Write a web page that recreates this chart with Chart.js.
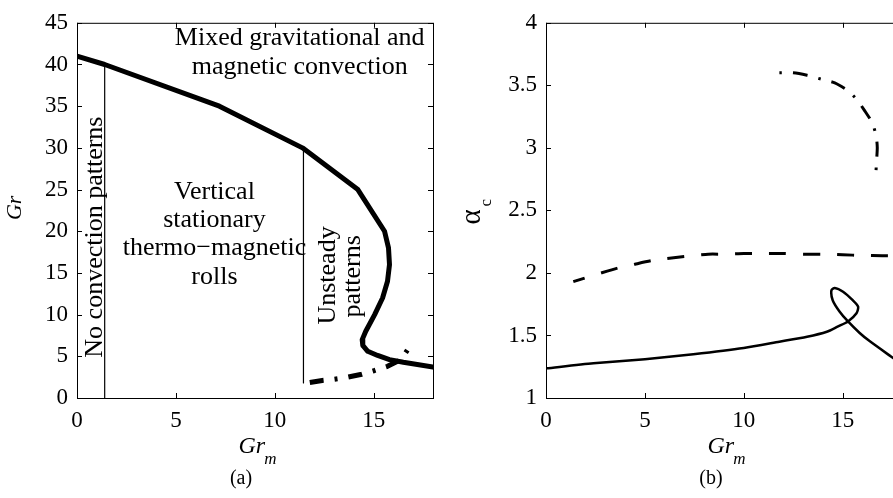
<!DOCTYPE html>
<html>
<head>
<meta charset="utf-8">
<script src="https://cdn.jsdelivr.net/npm/chart.js@4.4.1/dist/chart.umd.min.js"></script>
<style>
  html, body { margin: 0; padding: 0; background: #fff; overflow: hidden; }
  #wrap { position: relative; width: 893px; height: 498px; overflow: hidden; background: #fff; }
  canvas { position: absolute; top: 0; }
  #chartA { left: 0; }
  #chartB { left: 460px; }
</style>
</head>
<body>
<div id="wrap">
  <canvas id="chartA" width="460" height="498"></canvas>
  <canvas id="chartB" width="460" height="498"></canvas>
</div>
<script>
// (a) stability map: Gr against Gr_m
const boundaryGrm = [0, 1.4, 7.2, 11.4, 14.2, 15.55, 15.75, 15.8, 15.7, 15.45, 15.05, 14.6, 14.42, 14.45, 14.7, 15.2, 15.8, 16.5, 18];
const boundaryGr  = [41, 40, 35, 30, 25, 20, 18, 16, 14, 12, 10, 8, 7, 6.3, 5.6, 5.1, 4.6, 4.28, 3.7];
const unsteadyGrm = [11.77, 12.4, 13.0, 13.6, 14.4, 15.05, 15.7, 16.3, 16.55, 16.8];
const unsteadyGr  = [1.85, 2.1, 2.25, 2.45, 2.85, 3.3, 3.8, 4.5, 5.2, 6.1];
const noConvGrm = [1.4, 1.4];
const noConvGr  = [0, 40];
const rollsGrm = [11.45, 11.45];
const rollsGr  = [1.8, 30];

// (b) critical wavenumber alpha_c against Gr_m
const solidGrm   = [0, 2.4, 5, 7.45, 10, 11.8, 13.2, 14.2, 14.77, 15.27, 15.7, 15.78, 15.52, 15.02, 14.6, 14.43, 14.5, 14.85, 15.27, 15.86, 16.36, 17.46, 18];
const solidAlpha = [1.237, 1.277, 1.31, 1.35, 1.40, 1.45, 1.49, 1.53, 1.573, 1.612, 1.677, 1.73, 1.78, 1.85, 1.88, 1.86, 1.78, 1.69, 1.612, 1.52, 1.455, 1.33, 1.27];
const dashedGrm   = [1.38, 2.8, 3.65, 4.5, 5.4, 6.35, 7.2, 8.2, 9.1, 10, 11, 12, 13, 14, 15, 16, 17, 18];
const dashedAlpha = [1.93, 2.0, 2.04, 2.07, 2.1, 2.12, 2.135, 2.15, 2.15, 2.155, 2.155, 2.155, 2.15, 2.15, 2.145, 2.14, 2.138, 2.135];
const dashDotGrm   = [11.8, 12.5, 13.2, 13.9, 14.6, 15.25, 15.7, 16.1, 16.5, 16.7, 16.75, 16.7, 16.67];
const dashDotAlpha = [3.6, 3.6, 3.58, 3.55, 3.52, 3.46, 3.39, 3.3, 3.2, 3.09, 3.0, 2.86, 2.76];

const grmTicks = [0, 5, 10, 15];
const grTicks = [0, 5, 10, 15, 20, 25, 30, 35, 40, 45];
const alphaTicks = [1, 1.5, 2, 2.5, 3, 3.5, 4];

const SERIF = '"Liberation Serif", "Times New Roman", serif';

function line(xs, ys, width, dash, offset, tension) {
    return {
        data: xs.map((x, i) => ({ x, y: ys[i] })),
        showLine: true,
        borderColor: '#000',
        borderWidth: width,
        borderDash: dash || [],
        borderDashOffset: offset || 0,
        borderCapStyle: dash ? 'butt' : 'round',
        borderJoinStyle: 'round',
        pointRadius: 0,
        tension: tension || 0,
        fill: false
    };
}

function axis(min, max, ticks, size, dim) {
    return {
        type: 'linear', min, max,
        border: { display: false },
        grid: { display: false, drawTicks: false },
        afterBuildTicks: s => { s.ticks = ticks.map(value => ({ value })); },
        afterFit: s => { s[dim] = size; },
        ticks: {
            color: '#000', padding: 9, autoSkip: false, maxRotation: 0,
            font: { family: SERIF, size: 23 },
            callback: v => String(v)
        }
    };
}

function txt(ctx, s, x, y, font, rot, align) {
    ctx.save();
    ctx.translate(x, y);
    if (rot) ctx.rotate(-Math.PI / 2);
    ctx.font = font;
    ctx.textAlign = align || 'center';
    ctx.textBaseline = 'alphabetic';
    ctx.fillStyle = '#000';
    ctx.fillText(s, 0, 0);
    ctx.restore();
}

// italic "Gr" with subscript m, centred on cx
function grmTitle(ctx, cx, base) {
    const f1 = 'italic 24px ' + SERIF, f2 = 'italic 17px ' + SERIF;
    ctx.font = f1; const w1 = ctx.measureText('Gr').width;
    ctx.font = f2; const w2 = ctx.measureText('m').width;
    const left = cx - (w1 + w2) / 2;
    txt(ctx, 'Gr', left, base, f1, false, 'left');
    txt(ctx, 'm', left + w1 - 1, base + 11, f2, false, 'left');
}

// box round the plot with inward ticks on all four sides
const frame = {
    id: 'frame',
    afterDatasetsDraw(chart) {
        const { ctx, chartArea: a, scales: { x, y } } = chart;
        ctx.save();
        ctx.strokeStyle = '#000';
        ctx.lineWidth = 1;
        ctx.strokeRect(a.left + 0.5, a.top + 0.5, a.right - a.left, a.bottom - a.top);
        ctx.beginPath();
        x.ticks.forEach(t => {
            const px = Math.round(x.getPixelForValue(t.value)) + 0.5;
            ctx.moveTo(px, a.bottom); ctx.lineTo(px, a.bottom - 5);
            ctx.moveTo(px, a.top); ctx.lineTo(px, a.top + 5);
        });
        y.ticks.forEach(t => {
            const py = Math.round(y.getPixelForValue(t.value)) + 0.5;
            ctx.moveTo(a.left, py); ctx.lineTo(a.left + 5, py);
            ctx.moveTo(a.right, py); ctx.lineTo(a.right - 5, py);
        });
        ctx.stroke();
        ctx.restore();
    }
};

const notesA = {
    id: 'notesA',
    afterDraw(chart) {
        const { ctx, chartArea: a, scales: { x, y } } = chart;
        const big = '26px ' + SERIF;
        const at = (gx, gy) => [x.getPixelForValue(gx), y.getPixelForValue(gy)];
        txt(ctx, 'Mixed gravitational and', ...at(11.26, 42.3), big);
        txt(ctx, 'magnetic convection', ...at(11.26, 38.9), big);
        txt(ctx, 'Vertical', ...at(6.95, 23.9), big);
        txt(ctx, 'stationary', ...at(6.95, 20.5), big);
        txt(ctx, 'thermo\u2212magnetic', ...at(6.95, 17.1), big);
        txt(ctx, 'rolls', ...at(6.95, 13.7), big);
        txt(ctx, 'No convection patterns', ...at(1.26, 19.3), big, true);
        txt(ctx, 'Unsteady', ...at(13.03, 14.7), big, true);
        txt(ctx, 'patterns', ...at(14.3, 14.6), big, true);
        txt(ctx, 'Gr', 21, a.top + 185, 'italic 22px ' + SERIF, true);
        grmTitle(ctx, (a.left + a.right) / 2 + 3, 453);
        txt(ctx, '(a)', (a.left + a.right) / 2 - 14, 484, '20px ' + SERIF);
    }
};

const notesB = {
    id: 'notesB',
    afterDraw(chart) {
        const { ctx, chartArea: a } = chart;
        txt(ctx, '\u03b1', 20, a.top + 194, '29px ' + SERIF, true);
        txt(ctx, 'c', 31, a.top + 180, '17px ' + SERIF, true);
        grmTitle(ctx, (a.left + a.right) / 2 + 3, 453);
        txt(ctx, '(b)', (a.left + a.right) / 2 - 13, 484, '20px ' + SERIF);
    }
};

const base = {
    responsive: false,
    animation: false,
    plugins: { legend: { display: false }, tooltip: { enabled: false } }
};

new Chart(document.getElementById('chartA'), {
    type: 'scatter',
    data: {
        datasets: [
            line(noConvGrm, noConvGr, 1.2),
            line(rollsGrm, rollsGr, 1.2),
            line(unsteadyGrm, unsteadyGr, 5, [14, 11, 3, 11]),
            line(boundaryGrm, boundaryGr, 5)
        ]
    },
    options: {
        ...base,
        layout: { padding: { top: 16, right: 27, left: 0, bottom: 0 } },
        scales: {
            x: axis(0, 18, grmTicks, 100, 'height'),
            y: axis(0, 45, grTicks, 77, 'width')
        }
    },
    plugins: [frame, notesA]
});

new Chart(document.getElementById('chartB'), {
    type: 'scatter',
    data: {
        datasets: [
            line(dashDotGrm, dashDotAlpha, 3, [2.5, 11, 15, 11], 0, 0.2),
            line(dashedGrm, dashedAlpha, 3, [17, 17], 5, 0.2),
            line(solidGrm, solidAlpha, 2.5, null, 0, 0.25)
        ]
    },
    options: {
        ...base,
        layout: { padding: { top: 16, right: 18, left: 0, bottom: 0 } },
        scales: {
            x: axis(0, 18, grmTicks, 100, 'height'),
            y: axis(1, 4, alphaTicks, 86, 'width')
        }
    },
    plugins: [frame, notesB]
});
</script>
</body>
</html>
